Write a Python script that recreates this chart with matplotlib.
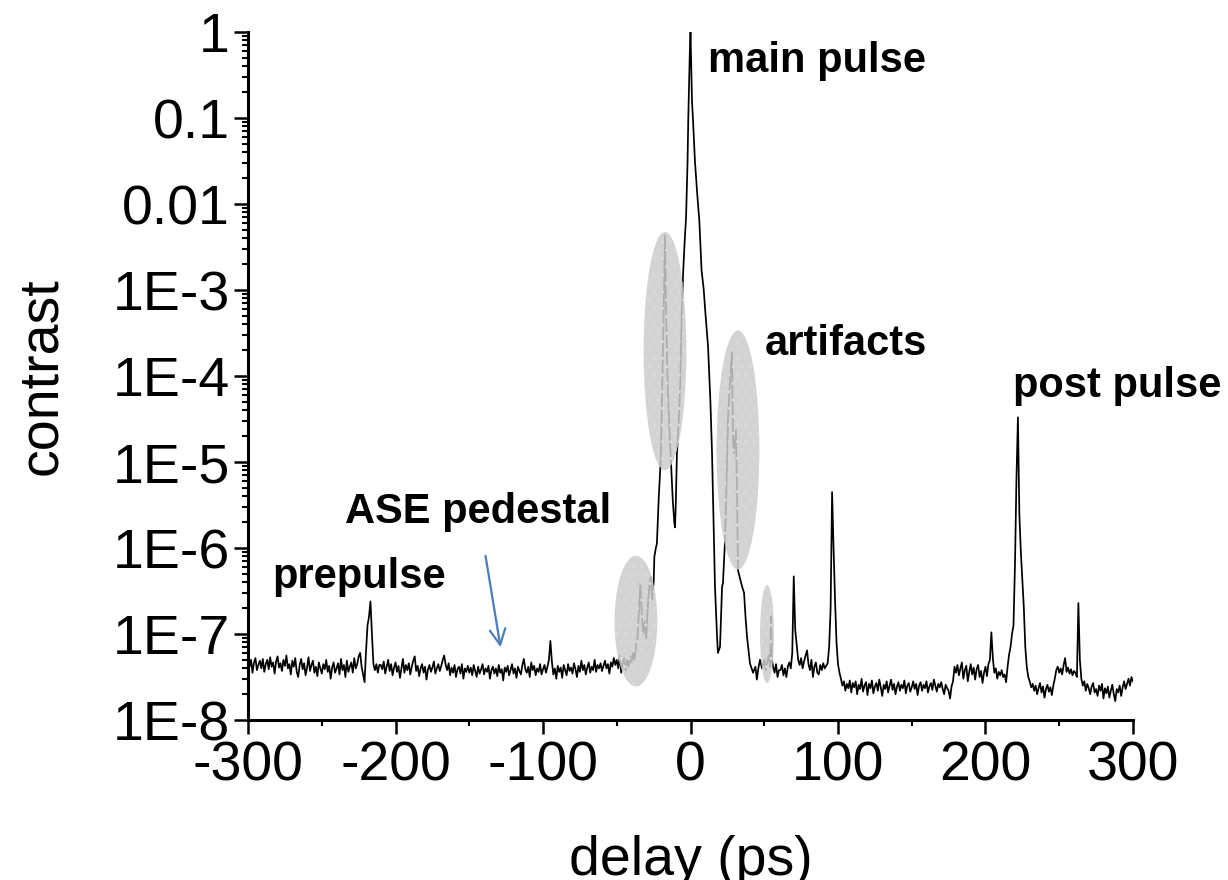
import numpy as np
import matplotlib
matplotlib.use("Agg")
import matplotlib.pyplot as plt
from matplotlib.patches import Ellipse
from matplotlib.ticker import FixedLocator, MultipleLocator, LogLocator, NullFormatter

plt.rcParams["font.family"] = ["Liberation Sans", "DejaVu Sans"]
plt.rcParams["axes.unicode_minus"] = False
plt.rcParams["hatch.linewidth"] = 1.0

# baseline before the main pulse, delay -300 ... -51 ps (1 ps step), log10(contrast)
pre_delay = np.arange(-300, -50, 1)
pre_log = [
    -7.20, -7.38, -7.30, -7.45, -7.33, -7.28, -7.42, -7.36, -7.31, -7.40,
    -7.29, -7.44, -7.35, -7.30, -7.41, -7.27, -7.38, -7.33, -7.46, -7.32,
    -7.26, -7.39, -7.34, -7.43, -7.30, -7.37, -7.25, -7.40, -7.35, -7.47,
    -7.31, -7.38, -7.28, -7.44, -7.50, -7.36, -7.29, -7.41, -7.34, -7.48,
    -7.39, -7.27, -7.43, -7.36, -7.31, -7.45, -7.38, -7.49, -7.33, -7.40,
    -7.46, -7.35, -7.41, -7.30, -7.44, -7.37, -7.52, -7.39, -7.33, -7.45,
    -7.40, -7.34, -7.47, -7.29, -7.42, -7.36, -7.50, -7.31, -7.44, -7.38,
    -7.33, -7.45, -7.28, -7.40, -7.35, -7.26, -7.22, -7.38, -7.47, -7.56,
    -7.20, -6.90, -6.80, -6.62, -7.00, -7.35, -7.42, -7.35, -7.45, -7.36,
    -7.36, -7.41, -7.32, -7.46, -7.38, -7.30, -7.43, -7.35, -7.48, -7.39,
    -7.33, -7.44, -7.37, -7.51, -7.40, -7.29, -7.45, -7.36, -7.42, -7.34,
    -7.47, -7.38, -7.31, -7.26, -7.43, -7.37, -7.49, -7.40, -7.35, -7.45,
    -7.38, -7.53, -7.41, -7.36, -7.44, -7.39, -7.32, -7.46, -7.40, -7.35,
    -7.43, -7.37, -7.30, -7.25, -7.36, -7.42, -7.34, -7.48, -7.39, -7.45,
    -7.36, -7.50, -7.41, -7.38, -7.46, -7.35, -7.52, -7.40, -7.44, -7.37,
    -7.45, -7.39, -7.48, -7.36, -7.43, -7.50, -7.38, -7.46, -7.41, -7.35,
    -7.47, -7.40, -7.44, -7.37, -7.52, -7.42, -7.38, -7.46, -7.40, -7.49,
    -7.36, -7.45, -7.41, -7.54, -7.39, -7.44, -7.37, -7.48, -7.42, -7.35,
    -7.46, -7.40, -7.51, -7.38, -7.43, -7.47, -7.36, -7.29, -7.41, -7.45,
    -7.38, -7.50, -7.33, -7.42, -7.37, -7.48, -7.40, -7.44, -7.35, -7.47,
    -7.41, -7.36, -7.45, -7.38, -7.30, -7.08, -7.32, -7.47, -7.40, -7.52,
    -7.37, -7.44, -7.39, -7.51, -7.36, -7.42, -7.48, -7.35, -7.43, -7.39,
    -7.46, -7.34, -7.41, -7.50, -7.37, -7.44, -7.31, -7.42, -7.36, -7.47,
    -7.39, -7.33, -7.45, -7.38, -7.42, -7.30, -7.44, -7.36, -7.40, -7.34,
    -7.43, -7.37, -7.31, -7.40, -7.35, -7.46, -7.33, -7.38, -7.28, -7.36,
]

# central region with main pulse and artifacts (irregular sampling)
mid_delay = [
    -50, -49, -48, -47, -46, -45, -44, -43, -42, -41, -40, -39, -38, -37,
    -36, -35, -34, -33, -32, -31, -30, -29, -28, -27, -26, -25, -24.5, -23.5,
    -22.8, -21.5, -20.2, -19, -18, -17.3, -16.5, -15.5, -14.2, -13, -12, -11,
    -10.5, -10, -9.2, -8, -7, -6, -5, -4, -3, -2, -1.5, -1, -0.5, 0,
    0.5, 1, 1.7, 3, 4.5, 6, 7.5, 9, 9.8, 11.9, 13.5, 14.6, 15.5, 16.6,
    18, 18.6, 20, 21.4, 22, 23.4, 24.5, 25.4, 27, 28.1, 28.8, 29.5, 30.8,
    31.5, 32.2, 33.5, 35, 36.3, 37.3, 38.3, 40.3, 42.4, 44, 45, 46, 47.1,
    48.5, 50, 51, 52, 53, 54, 54.6, 55.2, 56, 57, 58, 59, 60,
]
mid_log = [
    -7.30, -7.40, -7.25, -7.45, -7.35, -7.28, -7.42, -7.30, -7.38, -7.26,
    -7.33, -7.22, -7.30, -7.15, -7.05, -6.75, -6.41, -6.80, -7.00, -6.85,
    -7.05, -6.70, -6.45, -6.34, -6.60, -6.40, -6.10, -6.00,
    -5.95, -5.40, -4.98, -4.00, -3.00, -2.36, -3.30, -4.10, -4.66, -5.10,
    -5.45, -5.70, -5.76, -5.50, -4.90, -4.55, -4.10, -3.30, -2.80, -2.45,
    -2.15, -1.50, -1.00, -0.60, -0.25, 0.00,
    -0.40, -0.80, -1.02, -1.50, -1.87, -2.20, -2.77, -3.00, -3.20, -3.66,
    -4.30, -4.90, -5.60, -6.45, -7.03, -7.22, -7.15, -6.45, -6.41, -5.91,
    -5.20, -4.51, -4.00, -3.72, -4.71, -4.90, -4.63, -5.30, -6.26, -6.35,
    -6.45, -6.52, -6.80, -7.03, -7.34, -7.45, -7.38, -7.53, -7.40, -7.30,
    -7.40, -7.30, -7.42, -7.33, -7.25, -7.38, -6.80, -7.30, -7.38, -7.45,
    -7.35, -7.50, -7.42,
]

# after the artifacts, delay 61 ... 300 ps (1 ps step)
post_delay = np.arange(61, 301, 1)
post_log = [
    -7.42, -7.36, -7.48, -7.40, -7.50, -7.38, -7.33, -7.40, -7.22, -6.33,
    -6.95, -7.12, -7.30, -7.36, -7.28, -7.40, -7.32, -7.25, -7.19, -7.35,
    -7.42, -7.30, -7.50, -7.38, -7.33, -7.45, -7.47, -7.36, -7.42, -7.34,
    -7.40, -7.37, -7.34, -7.15, -6.70, -5.35, -6.00, -6.60, -7.10, -7.35,
    -7.45, -7.52, -7.60, -7.55, -7.66, -7.58, -7.63, -7.54, -7.68, -7.57,
    -7.62, -7.55, -7.70, -7.59, -7.64, -7.52, -7.67, -7.60, -7.56, -7.71,
    -7.58, -7.63, -7.54, -7.69, -7.61, -7.57, -7.66, -7.53, -7.62, -7.72,
    -7.59, -7.64, -7.55, -7.68, -7.60, -7.53, -7.65, -7.58, -7.70, -7.61,
    -7.56, -7.66, -7.59, -7.63, -7.54, -7.69, -7.60, -7.57, -7.67, -7.62,
    -7.55, -7.64, -7.58, -7.71, -7.60, -7.56, -7.66, -7.59, -7.63, -7.55,
    -7.68, -7.61, -7.57, -7.65, -7.53, -7.60, -7.67, -7.58, -7.62, -7.56,
    -7.64, -7.70, -7.59, -7.63, -7.66, -7.75, -7.61, -7.55, -7.38, -7.45,
    -7.36, -7.48, -7.40, -7.33, -7.52, -7.42, -7.37, -7.55, -7.44, -7.35,
    -7.47, -7.39, -7.53, -7.41, -7.36, -7.50, -7.43, -7.57, -7.45, -7.38,
    -7.49, -7.35, -7.30, -6.98, -7.28, -7.45, -7.40, -7.52, -7.44, -7.48,
    -7.42, -7.50, -7.47, -7.56, -7.38, -7.24, -7.15, -7.00, -6.90, -6.20,
    -5.20, -4.48, -5.62, -6.05, -6.37, -6.69, -7.15, -7.38, -7.50, -7.55,
    -7.62, -7.58, -7.66, -7.60, -7.70, -7.63, -7.57, -7.68, -7.61, -7.74,
    -7.64, -7.59, -7.67, -7.62, -7.71, -7.60, -7.52, -7.42, -7.38, -7.45,
    -7.40, -7.47, -7.36, -7.28, -7.44, -7.39, -7.46, -7.41, -7.48, -7.43,
    -7.45, -7.50, -6.64, -7.30, -7.52, -7.60, -7.55, -7.66, -7.58, -7.63,
    -7.70, -7.61, -7.57, -7.68, -7.64, -7.72, -7.60, -7.66, -7.58, -7.75,
    -7.63, -7.69, -7.61, -7.74, -7.66, -7.59, -7.70, -7.78, -7.64, -7.68,
    -7.60, -7.72, -7.62, -7.55, -7.64, -7.58, -7.52, -7.60, -7.50, -7.55,
]

delay = np.concatenate([pre_delay, mid_delay, post_delay])
contrast = 10.0 ** np.concatenate([pre_log, mid_log, post_log])

# highlighted artifacts: centre delay (ps), centre log10, width (ps), height (decades)
ell_x = [-17.3, 32.2, -37.0, 51.9]
ell_logy = [-3.71, -4.86, -6.85, -7.00]
ell_w = [29, 29, 29, 9.5]
ell_h = [2.77, 2.78, 1.52, 1.14]

ytick_vals = [1e-8, 1e-7, 1e-6, 1e-5, 1e-4, 1e-3, 0.01, 0.1, 1]
ytick_labels = ["1E-8", "1E-7", "1E-6", "1E-5", "1E-4", "1E-3", "0.01", "0.1", "1"]
xtick_vals = [-300, -200, -100, 0, 100, 200, 300]

fig = plt.figure(figsize=(12.28, 8.8), dpi=100)
ax = fig.add_axes([0.202, 0.1818, 0.7206, 0.7818])

ax.plot(delay, contrast, color="black", lw=1.25, zorder=2)
ax.set_yscale("log")
ax.set_xlim(-300, 300)
ax.set_ylim(1e-8, 1)

x0, x1 = ax.get_xlim()
for cx, cly, w, h in zip(ell_x, ell_logy, ell_w, ell_h):
    fx = (cx - x0) / (x1 - x0)
    fy = (cly + 8) / 8.0
    ax.add_patch(Ellipse((fx, fy), w / (x1 - x0), h / 8.0, transform=ax.transAxes,
                         facecolor="#cccccc", edgecolor="none", alpha=0.85, zorder=3))
    # faint dotted texture
    ax.add_patch(Ellipse((fx, fy), w / (x1 - x0), h / 8.0, transform=ax.transAxes,
                         facecolor="none", edgecolor="#dadada", lw=0, hatch="..",
                         zorder=3.1))

ax.yaxis.set_major_locator(FixedLocator(ytick_vals))
ax.set_yticklabels(ytick_labels)
ax.yaxis.set_minor_locator(LogLocator(base=10, subs=np.arange(2, 10), numticks=20))
ax.yaxis.set_minor_formatter(NullFormatter())
ax.set_xticks(xtick_vals)
ax.set_xticklabels([str(v) for v in xtick_vals])
ax.xaxis.set_minor_locator(MultipleLocator(50))

for s in ["top", "right"]:
    ax.spines[s].set_visible(False)
for s in ["left", "bottom"]:
    ax.spines[s].set_linewidth(2.2)
ax.tick_params(which="major", direction="out", length=10, width=1.8, labelsize=40, pad=3)
ax.tick_params(which="minor", direction="out", length=4.5, width=1.5)
ax.tick_params(axis="x", which="major", pad=5)

ax.set_xlabel("delay (ps)", fontsize=40, labelpad=30)
ax.set_ylabel("contrast", fontsize=40, labelpad=32)

lab_kw = dict(fontsize=30, fontweight="bold", ha="left", va="baseline", zorder=4)
ax.text(11.9, 10 ** -0.465, "main pulse", **lab_kw)
ax.text(50.5, 10 ** -3.756, "artifacts", **lab_kw)
ax.text(218.6, 10 ** -4.244, "post pulse", **lab_kw)
ax.text(-234.2, 10 ** -5.709, "ASE pedestal", **lab_kw)
ax.text(-283.7, 10 ** -6.465, "prepulse", **lab_kw)

ax.annotate("", xy=(-128.5, 10 ** -7.186), xytext=(-139.3, 10 ** -6.058),
            arrowprops=dict(arrowstyle="->", color="#4a7ebb", lw=1.6,
                            mutation_scale=28), zorder=4)

fig.savefig("out.png", dpi=100, facecolor="white")
